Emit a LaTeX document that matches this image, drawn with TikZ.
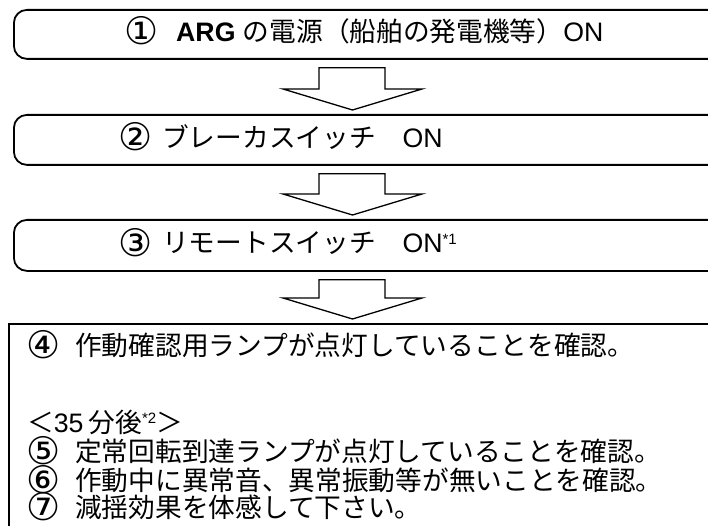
\documentclass[tikz,border=0pt]{standalone}
\usepackage{fontspec}
\setmainfont{Liberation Sans}
\newfontfamily\cjk{Noto Sans CJK JP}
\newfontfamily\dejavu{DejaVu Sans}
\usetikzlibrary{calc}
\newcommand\cnum[2]{\makebox[26pt]{\raisebox{-3pt}[0pt][0pt]{\fontsize{38}{38}\dejavu #1}}\hspace{#2}}
\newcommand\supmark[1]{\raisebox{9pt}{\fontsize{15}{15}\selectfont #1}}
\newcommand\blockarr[2]{\path[barrow] let \p1=(#1.south), \p2=(#2.north) in
  (319pt,\y1-8pt) -- (385pt,\y1-8pt) -- (385pt,\y2+25pt) -- (422pt,\y2+25pt)
  -- (352.5pt,\y2+4pt) -- (283pt,\y2+25pt) -- (319pt,\y2+25pt) -- cycle;}
\begin{document}
\begin{tikzpicture}[x=1pt,y=1pt,
  rbox/.style={draw, line width=1.8pt, rounded corners=13pt, anchor=north west, inner sep=0pt, minimum width=720pt},
  sqbox/.style={draw, line width=1.8pt, anchor=north west, inner sep=0pt, minimum width=720pt},
  txt/.style={anchor=base west, inner sep=0pt, font=\fontsize{26.7}{30}\selectfont},
  barrow/.style={draw, line width=1.3pt, fill=white, line join=miter}]
\useasboundingbox (0,0) rectangle (708,-526);
\clip (0,0) rectangle (708,-526);
\node[rbox, minimum height=49pt] (b1) at (13,-9) {};
\node[rbox, minimum height=50pt] (b2) at (13,-114) {};
\node[rbox, minimum height=51pt] (b3) at (13,-219) {};
\node[sqbox, minimum height=250pt] (b4) at (8,-323) {};
\blockarr{b1}{b2}
\blockarr{b2}{b3}
\blockarr{b3}{b4}
\node[txt] (t1) at (128,-42) {\cnum{①}{22pt}\textbf{ARG} {\cjk の電源（船舶の発電機等）}ON};
\node[txt] (t2) at (122,-148) {\cnum{②}{14pt}{\cjk ブレーカスイッチ　}ON};
\node[txt] (t3) at (122,-253) {\cnum{③}{14pt}{\cjk リモートスイッチ　}ON\supmark{*1}};
\node[txt] (t4) at (30,-355) {\cnum{④}{19pt}{\cjk 作動確認用ランプが点灯していることを確認。}};
\node[txt] (t5) at (27,-432) {{\cjk ＜}35\hspace{5pt}{\cjk 分後}\supmark{*2}{\cjk ＞}};
\node[txt] (t6) at (30,-461) {\cnum{⑤}{19pt}{\cjk 定常回転到達ランプが点灯していることを確認。}};
\node[txt] (t7) at (30,-490) {\cnum{⑥}{19pt}{\cjk 作動中に異常音、異常振動等が無いことを確認。}};
\node[txt] (t8) at (30,-517) {\cnum{⑦}{19pt}{\cjk 減揺効果を体感して下さい。}};
\end{tikzpicture}
\end{document}
